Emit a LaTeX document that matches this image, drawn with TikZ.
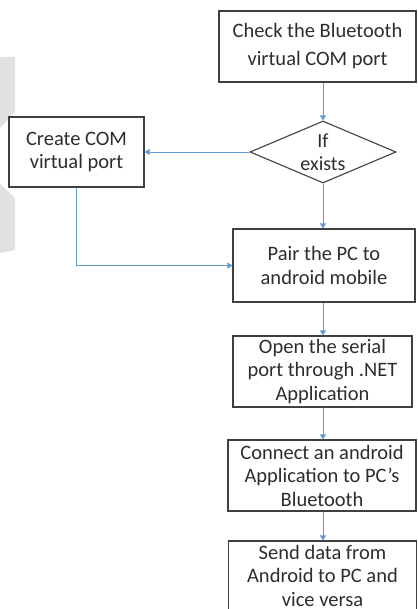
\documentclass[tikz,border=0pt]{standalone}
\usepackage{fontspec}
\setmainfont{Carlito}
\usetikzlibrary{shapes.geometric,arrows.meta}
\definecolor{flowblue}{RGB}{100,155,210}
\definecolor{boxtext}{RGB}{45,45,45}
\definecolor{edgegray}{RGB}{225,225,225}
\begin{document}
\begin{tikzpicture} [x = 1pt, y = -1pt,
	box/.style = {draw = black!75, line width = 1.1pt, minimum width = #1, minimum height = 71pt,
		align = center, inner sep = 0pt, text = boxtext, font = \fontsize{20.5}{23.5}\selectfont},
	test/.style = {draw = black!75, line width = 1.1pt, diamond, aspect = 2.35, inner sep = 0pt,
		minimum width = 146pt, minimum height = 62pt, align = center, text = boxtext,
		font = \fontsize{20}{23}\selectfont},
	flow/.style = {draw = flowblue, line width = 0.9pt, -{Triangle[length = 5pt, width = 6pt]}}]
	\useasboundingbox (0,0) rectangle (417,609);
	\fill [edgegray] (0,57) -- (15,57) -- (15,112) -- (0,128) -- cycle;
	\fill [edgegray] (0,184) -- (15,198) -- (15,250) -- (0,253) -- cycle;
	\node [box = 197pt, font = \fontsize{20.5}{28}\selectfont] (check) at (317.5,46.5) {Check the Bluetooth\\virtual COM port};
	\node [test] (exists) at (323,152) {If\\exists};
	\node [box = 135pt, minimum height = 70pt] (create) at (76.5,152) {Create COM\\virtual port};
	\node [box = 182pt, minimum height = 73pt] (pair) at (324,265.5) {Pair the PC to\\android mobile};
	\node [box = 179pt] (open) at (322.5,371.5) {Open the serial\\port through .NET\\Application};
	\node [box = 188pt] (connect) at (322,475.5) {Connect an android\\Application to PC's\\Bluetooth};
	\node [box = 188pt, minimum height = 69pt] (send) at (322.5,575.5) {Send data from\\Android to PC and\\vice versa};
	\draw [flow] (check.south -| exists.north) -- (exists.north);
	\draw [flow] (exists.west) -- (create.east);
	\draw [flow] (exists.south) -- (pair.north -| exists.south);
	\draw [flow] (create.south) |- (pair.west);
	\draw [flow] (pair.south -| exists.south) -- (open.north -| exists.south);
	\draw [flow] (open.south -| exists.south) -- (connect.north -| exists.south);
	\draw [flow] (connect.south -| exists.south) -- (send.north -| exists.south);
\end{tikzpicture}
\end{document}
